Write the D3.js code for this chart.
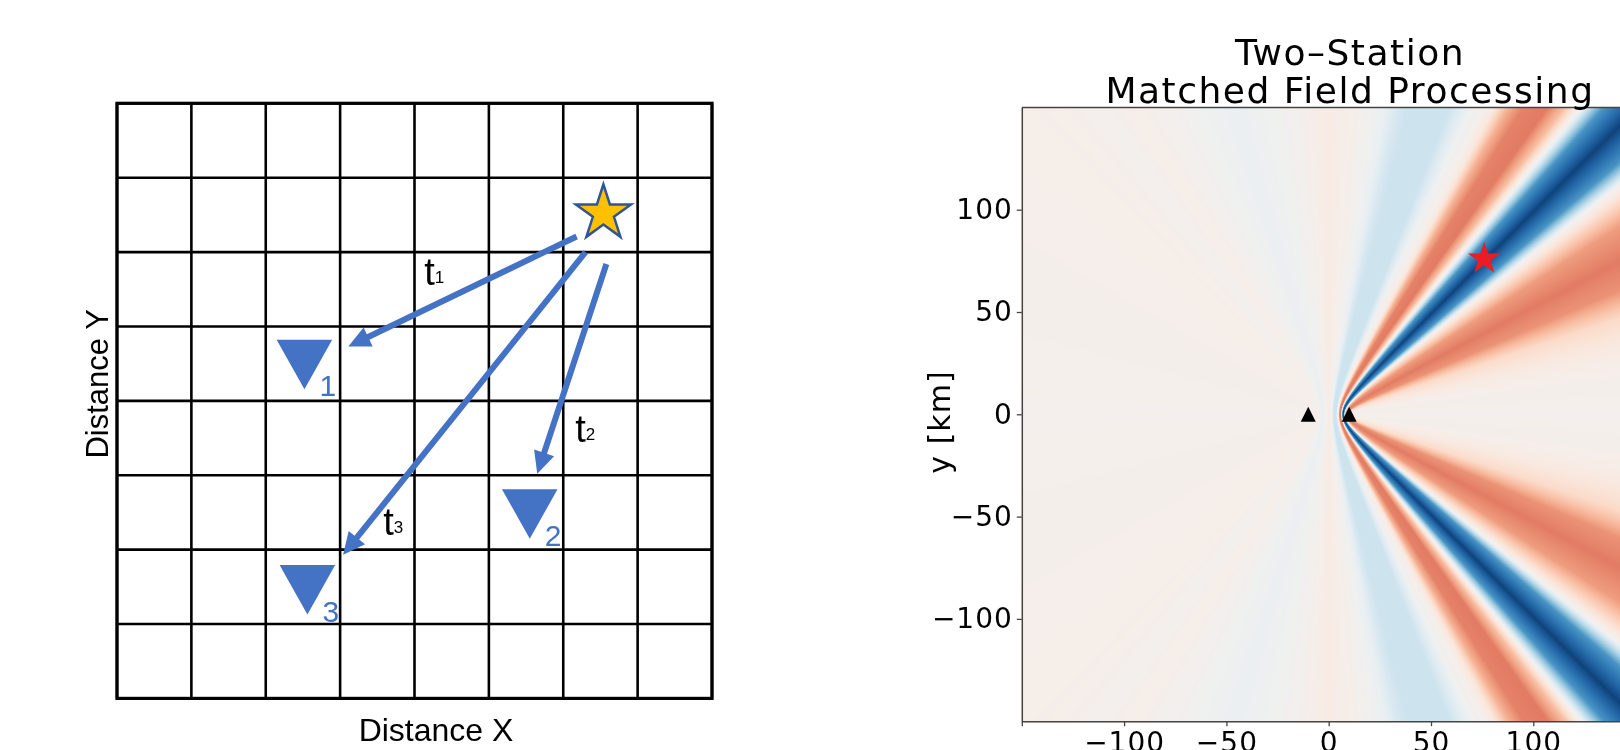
<!DOCTYPE html>
<html>
<head>
<meta charset="utf-8">
<script src="https://cdn.jsdelivr.net/npm/d3@7"></script>
<style>
  body { margin: 0; background: #fff; }
  #wrap { position: relative; width: 1620px; height: 750px; overflow: hidden; }
  #field, #chart { position: absolute; left: 0; top: 0; }
</style>
</head>
<body>
<div id="wrap">
  <canvas id="field" width="1620" height="750"></canvas>
  <svg id="chart"></svg>
</div>
<script>
// ---- left panel: sketch of source, receivers and travel paths (grid units, origin top-left)
const gridLines = [0, 1, 2, 3, 4, 5, 6, 7, 8];
const source = { x: 6.54, y: 1.48 };
const receivers = [
  { id: "1", x: 2.52, y: 3.51 },
  { id: "2", x: 5.55, y: 5.52 },
  { id: "3", x: 2.56, y: 6.54 }
];
const rays = [
  { t: "1", from: [6.18, 1.79], to: [3.11, 3.27], label: [4.13, 2.44] },
  { t: "2", from: [6.58, 2.16], to: [5.65, 4.98], label: [6.16, 4.55] },
  { t: "3", from: [6.30, 2.00], to: [3.04, 6.07], label: [3.58, 5.80] }
];

// ---- right panel: two-station MFP (km)
const stations = [[-10, 0], [10, 0]];
const trueSource = [76, 76];
const xTicks = [-150, -100, -50, 0, 50, 100, 150];
const yTicks = [-100, -50, 0, 50, 100];
// MFP value against differential distance d1 - d2 (km)
const deltaSamples = [-20, -17, -13.6, -12, -10.8, -8.5, -5.9, -3, 0, 2, 3.5, 4.3, 5.0, 7.3, 8.0, 8.5, 8.9,
                      9.5, 10.1, 10.7, 11.6, 12.2, 12.7, 13.35, 14.2, 15.1, 15.7, 16.2, 16.8, 17.7, 18.4, 19.0, 19.5, 19.8, 20];
const fieldSamples = [0.02, 0.03, 0.04, 0.01, 0.04, -0.01, -0.05, -0.01, 0.07, 0.02, -0.05, -0.15, -0.2, -0.2, -0.1, -0.01, 0.0,
                      0.1, 0.35, 0.5, 0.52, 0.3, 0.0, -0.6, -0.93, -0.6, 0.0, 0.2, 0.42, 0.52, 0.45, 0.18, 0.08, 0.03, 0.02];

const W = 1620, H = 750;
const svg = d3.select("#chart").attr("width", W).attr("height", H);

// ================= left panel =================
const gx = d3.scaleLinear().domain([0, 8]).range([117, 712]);
const gy = d3.scaleLinear().domain([0, 8]).range([103.3, 698.4]);
const blue = "#4472C4";
const left = svg.append("g").attr("font-family", "'Liberation Sans', Arial, sans-serif");

left.selectAll("line.v").data(gridLines).join("line").attr("class", "v")
  .attr("x1", d => gx(d)).attr("x2", d => gx(d))
  .attr("y1", gy(0)).attr("y2", gy(8))
  .attr("stroke", "#000").attr("stroke-width", 2.6);
left.selectAll("line.h").data(gridLines).join("line").attr("class", "h")
  .attr("y1", d => gy(d)).attr("y2", d => gy(d))
  .attr("x1", gx(0)).attr("x2", gx(8))
  .attr("stroke", "#000").attr("stroke-width", 2.6);
left.append("rect")
  .attr("x", gx(0)).attr("y", gy(0))
  .attr("width", gx(8) - gx(0)).attr("height", gy(8) - gy(0))
  .attr("fill", "none").attr("stroke", "#000").attr("stroke-width", 3.2);

// travel paths with arrowheads
rays.forEach(r => {
  const x0 = gx(r.from[0]), y0 = gy(r.from[1]);
  const x1 = gx(r.to[0]), y1 = gy(r.to[1]);
  const len = Math.hypot(x1 - x0, y1 - y0);
  const ux = (x1 - x0) / len, uy = (y1 - y0) / len;
  left.append("line")
    .attr("x1", x0).attr("y1", y0)
    .attr("x2", x1 - ux * 14).attr("y2", y1 - uy * 14)
    .attr("stroke", blue).attr("stroke-width", 6);
  const bx = x1 - ux * 22, by = y1 - uy * 22;
  left.append("path")
    .attr("d", `M${x1},${y1}L${bx - uy * 10.5},${by + ux * 10.5}L${bx + uy * 10.5},${by - ux * 10.5}Z`)
    .attr("fill", blue);
  const lab = left.append("text")
    .attr("x", gx(r.label[0])).attr("y", gy(r.label[1]))
    .attr("font-size", 38).attr("fill", "#000");
  lab.append("tspan").text("t");
  lab.append("tspan").attr("font-size", 17).attr("dy", -2).text(r.t);
});

// receivers
const recTri = "M-27.8,-24.75L27.8,-24.75L0,24.75Z";
left.selectAll("path.rec").data(receivers).join("path").attr("class", "rec")
  .attr("d", recTri)
  .attr("transform", d => `translate(${gx(d.x)},${gy(d.y)})`)
  .attr("fill", blue);
left.selectAll("text.rec").data(receivers).join("text").attr("class", "rec")
  .attr("x", d => gx(d.x) + 15).attr("y", d => gy(d.y) + 32)
  .attr("font-size", 30).attr("fill", blue)
  .text(d => d.id);

// source star
left.append("path")
  .attr("d", d3.symbol(d3.symbolStar, 944)())
  .attr("transform", `translate(${gx(source.x)},${gy(source.y)})`)
  .attr("fill", "#FFC000").attr("stroke", "#2F5597").attr("stroke-width", 2.5)
  .attr("stroke-linejoin", "miter");

left.append("text")
  .attr("x", 436).attr("y", 741)
  .attr("text-anchor", "middle").attr("font-size", 32)
  .text("Distance X");
left.append("text")
  .attr("transform", `translate(107.5,${(gy(0) + gy(8)) / 2 - 17}) rotate(-90)`)
  .attr("text-anchor", "middle").attr("font-size", 31)
  .text("Distance Y");

// ================= right panel =================
const x = d3.scaleLinear().domain([-150, 150]).range([1021.8, 1635.6]);
const y = d3.scaleLinear().domain([-150, 150]).range([721.2, 107.4]);
const profile = d3.scaleLinear().domain(deltaSamples).range(fieldSamples).clamp(true);
const colour = d3.scaleSequential(d3.interpolateRdBu).domain([1, -1]);

// lookup table over differential distance
const lutN = 4001;
const lutDelta = d3.scaleLinear().domain([0, lutN - 1]).range([-20, 20]);
const lut = d3.range(lutN).map(i => d3.rgb(colour(profile(lutDelta(i)))));

const ctx = document.getElementById("field").getContext("2d");
const px0 = Math.round(x(-150)), px1 = W;
const py0 = Math.round(y(150)), py1 = Math.round(y(-150));
const img = ctx.createImageData(px1 - px0, py1 - py0);
const [sa, sb] = stations;
for (let py = py0; py < py1; py++) {
  const yv = y.invert(py + 0.5);
  for (let px = px0; px < px1; px++) {
    const xv = x.invert(px + 0.5);
    const delta = Math.hypot(xv - sa[0], yv - sa[1]) - Math.hypot(xv - sb[0], yv - sb[1]);
    const c = lut[Math.max(0, Math.min(lutN - 1, Math.round(lutDelta.invert(delta))))];
    const k = ((py - py0) * (px1 - px0) + (px - px0)) * 4;
    img.data[k] = c.r; img.data[k + 1] = c.g; img.data[k + 2] = c.b; img.data[k + 3] = 255;
  }
}
ctx.putImageData(img, px0, py0);

const right = svg.append("g").attr("font-family", "'DejaVu Sans', sans-serif");
const spine = "#444";

right.append("line")
  .attr("x1", x(-150)).attr("x2", x(150)).attr("y1", y(150)).attr("y2", y(150))
  .attr("stroke", spine).attr("stroke-width", 1.5);

const fmt = d3.format("");
const yAxis = right.append("g")
  .attr("transform", `translate(${x(-150)},0)`)
  .call(d3.axisLeft(y).tickValues(yTicks).tickSize(5).tickSizeOuter(0).tickPadding(4).tickFormat(fmt));
const xAxis = right.append("g")
  .attr("transform", `translate(0,${y(-150)})`)
  .call(d3.axisBottom(x).tickValues(xTicks).tickSize(5).tickSizeOuter(0).tickPadding(6)
    .tickFormat(d => Math.abs(d) === 150 ? "" : fmt(d)));
[yAxis, xAxis].forEach(g => {
  g.attr("font-family", "'DejaVu Sans', sans-serif").attr("font-size", 28);
  g.select(".domain").attr("stroke", spine).attr("stroke-width", 1.5);
  g.selectAll(".tick line").attr("stroke", spine).attr("stroke-width", 1.3);
  g.selectAll(".tick text").attr("fill", "#000").attr("letter-spacing", 1);
});

right.selectAll("path.sta").data(stations).join("path").attr("class", "sta")
  .attr("d", "M0,-7.5L7.5,7.5L-7.5,7.5Z")
  .attr("transform", d => `translate(${x(d[0])},${y(d[1])})`)
  .attr("fill", "#000");

right.append("path")
  .attr("d", d3.symbol(d3.symbolStar, 330)())
  .attr("transform", `translate(${x(trueSource[0])},${y(trueSource[1])})`)
  .attr("fill", "#ec1c24");

right.append("text")
  .attr("x", 1350).attr("y", 65).attr("text-anchor", "middle").attr("font-size", 36)
  .attr("letter-spacing", 1.5)
  .text("Two\u2013Station");
right.append("text")
  .attr("x", 1350).attr("y", 103).attr("text-anchor", "middle").attr("font-size", 36)
  .attr("letter-spacing", 1.5)
  .text("Matched Field Processing");
right.append("text")
  .attr("transform", `translate(950,422) rotate(-90)`)
  .attr("text-anchor", "middle").attr("font-size", 30).attr("letter-spacing", 1)
  .text("y [km]");
</script>
</body>
</html>
